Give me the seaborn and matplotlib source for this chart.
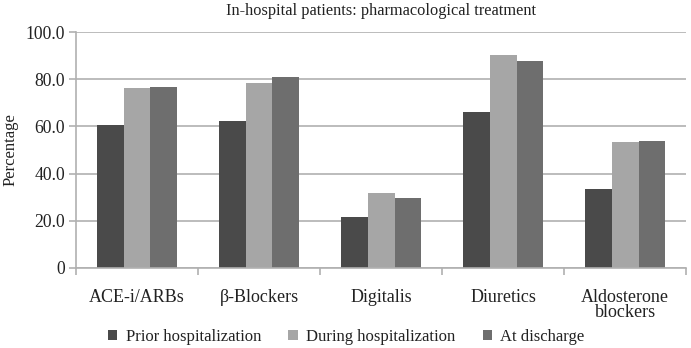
import matplotlib
matplotlib.use("Agg")
import matplotlib.pyplot as plt
import seaborn as sns
import pandas as pd
from matplotlib.patches import Patch
from matplotlib.ticker import FixedLocator

categories = ["ACE-i/ARBs", "β-Blockers", "Digitalis", "Diuretics", "Aldosterone\nblockers"]
series = ["Prior hospitalization", "During hospitalization", "At discharge"]
prior = [60.7, 62.4, 21.7, 66.2, 33.3]
during = [76.1, 78.5, 31.9, 90.1, 53.3]
discharge = [76.5, 80.9, 29.5, 87.7, 53.9]
colors = ["#4a4a4a", "#a6a6a6", "#6e6e6e"]
yticks = [0, 20, 40, 60, 80, 100]
ytick_labels = ["0", "20.0", "40.0", "60.0", "80.0", "100.0"]

rows = []
for s, vals in zip(series, [prior, during, discharge]):
    for c, v in zip(categories, vals):
        rows.append({"category": c, "series": s, "value": v})
df = pd.DataFrame(rows)

sns.set_theme(style="white")
plt.rcParams["font.family"] = ["Liberation Serif", "DejaVu Serif"]

fig, ax = plt.subplots(figsize=(6.91, 3.48), dpi=100)
fig.subplots_adjust(left=0.110, right=0.993, top=0.908, bottom=0.230)

sns.barplot(data=df, x="category", y="value", hue="series", order=categories,
            hue_order=series, palette=colors, width=0.66, saturation=1,
            edgecolor="none", linewidth=0, ax=ax, legend=False)

ax.set_xlim(-0.5, len(categories) - 0.5)
ax.set_ylim(0, 100)
ax.set_yticks(yticks)
ax.set_yticklabels(ytick_labels, fontsize=12.7, color="#222222")
ax.yaxis.grid(True, color="#b0b0b0", linewidth=1.2)
ax.set_axisbelow(True)
ax.tick_params(axis="y", length=5, color="#b0b0b0", width=1.2, pad=3, left=True)
ax.tick_params(axis="x", which="major", length=0, labelsize=13, pad=15, labelcolor="#222222")
ax.xaxis.set_minor_locator(FixedLocator([i - 0.5 for i in range(len(categories) + 1)]))
ax.tick_params(axis="x", which="minor", length=5, color="#b0b0b0", width=1.2, bottom=True)
for lbl in ax.get_xticklabels():
    lbl.set_linespacing(0.85)

for sp in ["top", "right"]:
    ax.spines[sp].set_visible(False)
for sp in ["left", "bottom"]:
    ax.spines[sp].set_color("#b0b0b0")
    ax.spines[sp].set_linewidth(1.2)

ax.set_xlabel("")
ax.set_ylabel("Percentage", fontsize=12, color="#222222", labelpad=5)
ax.set_title("In-hospital patients: pharmacological treatment", fontsize=11.8,
             color="#222222", pad=12)

handles = [Patch(facecolor=c, edgecolor="none", label=s) for c, s in zip(colors, series)]
fig.legend(handles=handles, loc="lower center", ncol=3, frameon=False,
           bbox_to_anchor=(0.501, -0.035), fontsize=12, handlelength=0.55,
           handleheight=0.55, handletextpad=0.5, columnspacing=1.65,
           labelcolor="#222222")

fig.savefig("out.png", dpi=100, facecolor="white")
